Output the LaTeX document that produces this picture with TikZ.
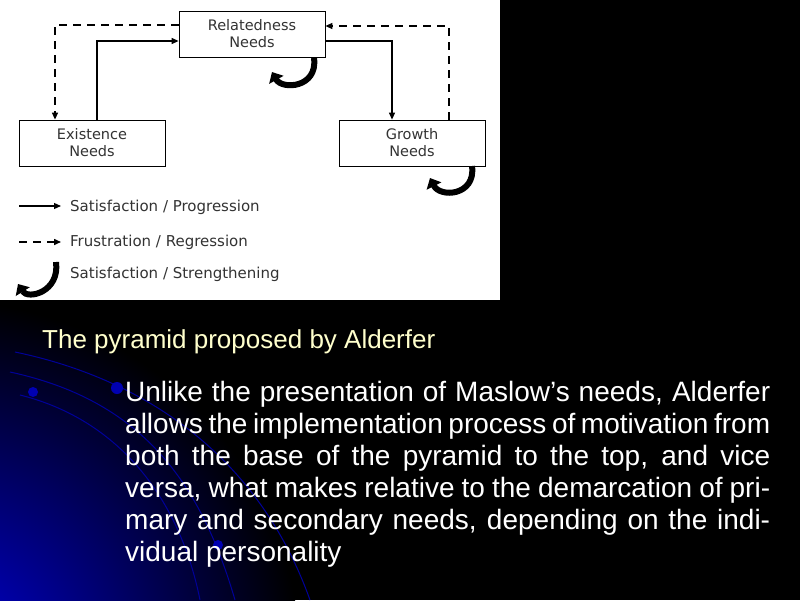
\documentclass[tikz,border=0pt]{standalone}
\usepackage{fontspec}
\setmainfont{Liberation Sans}
\newfontfamily\verd{DejaVu Sans}
\usetikzlibrary{arrows.meta}
\begin{document}
\begin{tikzpicture}[x=1pt,y=-1pt,
  box/.style={draw=black,line width=0.8pt,fill=white,minimum width=146pt,minimum height=46pt,inner sep=0pt,align=center,font=\verd\fontsize{14.5}{17}\selectfont,text=black!80},
  solid arr/.style={line width=1.2pt,-{Triangle[length=7pt,width=6pt]}},
  dash arr/.style={line width=1.5pt,dash pattern=on 8pt off 6pt,-{Triangle[length=7pt,width=6pt]}},
  hook/.style={line width=6pt,-{Triangle[length=9pt,width=16pt]}},
  leg/.style={anchor=west,font=\verd\fontsize{15}{18}\selectfont,text=black!80,inner sep=0pt}]
\useasboundingbox (0,0) rectangle (800,600);
\fill[black] (0,0) rectangle (800,600);
\shade[inner color=blue!85!black, outer color=black] (-60,660) circle (360);
\begin{scope}[draw=blue!60!black,line width=1pt]
\draw (15,352) .. controls (150,380) and (260,460) .. (310,600);
\draw (10,372) .. controls (140,400) and (200,480) .. (235,600);
\draw (20,395) .. controls (120,420) and (180,500) .. (200,600);
\end{scope}
\fill[blue!70!black] (117,388) circle (6);
\fill[blue!70!black] (33,392) circle (5);
\fill[blue!70!black] (218,545) circle (5);
\fill[white] (0,0) rectangle (500,300);
\node[box] (rel) at (252,34) {Relatedness\\Needs};
\node[box] (ex) at (92,143) {Existence\\Needs};
\node[box] (gr) at (412,143) {Growth\\Needs};
\coordinate (c1) at (97,41);
\coordinate (c2) at (392,41);
\coordinate (c3) at (55,25);
\coordinate (c4) at (449,26);
\draw[solid arr] (ex.north -| c1) |- (rel.west |- c1);
\draw[solid arr] (rel.east |- c2) -| (gr.north -| c2);
\draw[dash arr] (rel.west |- c3) -| (ex.north -| c3);
\draw[dash arr] (gr.north -| c4) |- (rel.east |- c4);
\coordinate (h1s) at (314,58);
\coordinate (h1e) at (272,72);
\draw[hook] (h1s) .. controls (318,88) and (282,90) .. (h1e);
\coordinate (h2s) at (472,166);
\coordinate (h2e) at (430,178);
\draw[hook] (h2s) .. controls (476,196) and (440,198) .. (h2e);
\coordinate (l1a) at (19,206); \coordinate (l1b) at (61,206);
\draw[solid arr] (l1a) -- (l1b);
\coordinate (l2a) at (19,242); \coordinate (l2b) at (61,242);
\draw[dash arr] (l2a) -- (l2b);
\coordinate (l3a) at (56,262); \coordinate (l3b) at (18,284);
\draw[hook] (l3a) .. controls (60,292) and (28,300) .. (l3b);
\node[leg] (t1) at (70,207) {Satisfaction / Progression};
\node[leg] (t2) at (70,242) {Frustration / Regression};
\node[leg] (t3) at (70,274) {Satisfaction / Strengthening};
\node[anchor=west,inner sep=0pt,text={rgb,255:red,255;green,255;blue,204},font=\fontsize{20}{24}\selectfont] (title) at (42,342) {\fontsize{26}{30}\selectfont The pyramid proposed by Alderfer};
\node[anchor=north west,inner sep=0pt,text width=645pt,align=justify,text=white,font=\fontsize{28}{32}\selectfont] (body) at (125,381) {\hyphenpenalty=10000\exhyphenpenalty=10000\fontsize{28}{32}\selectfont Unlike the presentation of Maslow's needs, Alderfer allows the implementation process of motivation from both the base of the pyramid to the top, and vice versa, what makes relative to the demarcation of primary and secondary needs, depending on the individual personality};
\end{tikzpicture}
\end{document}
